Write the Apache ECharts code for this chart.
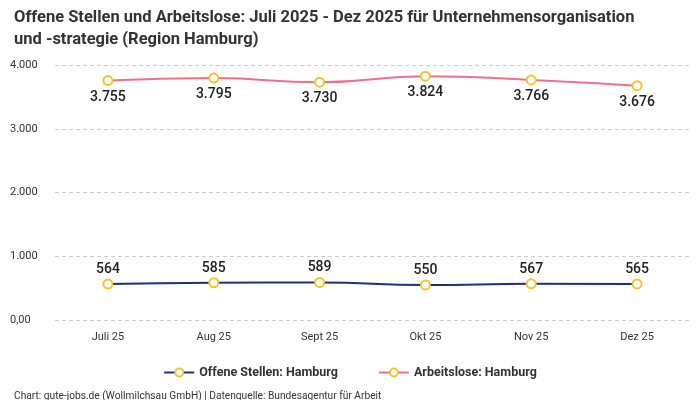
<!DOCTYPE html>
<html><head><meta charset="utf-8">
<script src="https://cdn.jsdelivr.net/npm/echarts@6/dist/echarts.min.js"></script>
<style>html,body{margin:0;padding:0;background:#fff}#c{width:700px;height:400px}</style>
</head><body><div id="c"></div>
<script>
const categories = ['Juli 25','Aug 25','Sept 25','Okt 25','Nov 25','Dez 25'];
const offeneStellen = [564,585,589,550,567,565];
const arbeitslose = [3755,3795,3730,3824,3766,3676];
const yTicks = {min:0,max:4000,interval:1000};
const fmt = v => v.toLocaleString('de-DE');
const chart = echarts.init(document.getElementById('c'));
const sym = {symbol:'circle',symbolSize:9,itemStyle:{color:'#fff',borderColor:'#f7c325',borderWidth:2}};
chart.setOption({
  animation:false,
  textStyle:{fontFamily:'Roboto'},
  title:[{text:'Offene Stellen und Arbeitslose: Juli 2025 - Dez 2025 für Unternehmensorganisation\nund -strategie (Region Hamburg)',left:9,top:2,textStyle:{fontSize:16.5,fontWeight:'bold',color:'#333',lineHeight:22}},
    {text:'Chart: gute-jobs.de (Wollmilchsau GmbH) | Datenquelle: Bundesagentur für Arbeit',left:9,top:386,textStyle:{fontSize:10.2,fontWeight:'normal',color:'#333'}}],
  legend:{bottom:16,left:'center',itemGap:40,itemWidth:30,itemHeight:10,textStyle:{fontSize:12.5,fontWeight:'bold',color:'#333'},
    data:[{name:'Offene Stellen: Hamburg'},{name:'Arbeitslose: Hamburg'}]},
  grid:{left:55,right:10,top:65,bottom:80},
  xAxis:{type:'category',data:categories,axisLine:{show:false},axisTick:{show:false},axisLabel:{color:'#333',fontSize:11,margin:12}},
  yAxis:{type:'value',min:yTicks.min,max:yTicks.max,interval:yTicks.interval,
    axisLabel:{color:'#333',fontSize:11,align:'left',margin:45,formatter:v=>v===0?'0,00':fmt(v)},
    splitLine:{lineStyle:{type:[4,3],color:'#ccc'}}},
  series:[
    Object.assign({name:'Offene Stellen: Hamburg',type:'line',smooth:true,data:offeneStellen,lineStyle:{color:'#1c2d8c',width:2},color:'#1c2d8c',
      label:{show:true,position:'top',distance:2,fontSize:14,fontWeight:500,color:'#222',formatter:p=>fmt(p.value)}},sym),
    Object.assign({name:'Arbeitslose: Hamburg',type:'line',smooth:true,data:arbeitslose,lineStyle:{color:'#f0708a',width:2},color:'#f0708a',
      label:{show:true,position:'bottom',distance:4,fontSize:14,fontWeight:500,color:'#222',formatter:p=>fmt(p.value)}},sym)
  ]
});
</script></body></html>
